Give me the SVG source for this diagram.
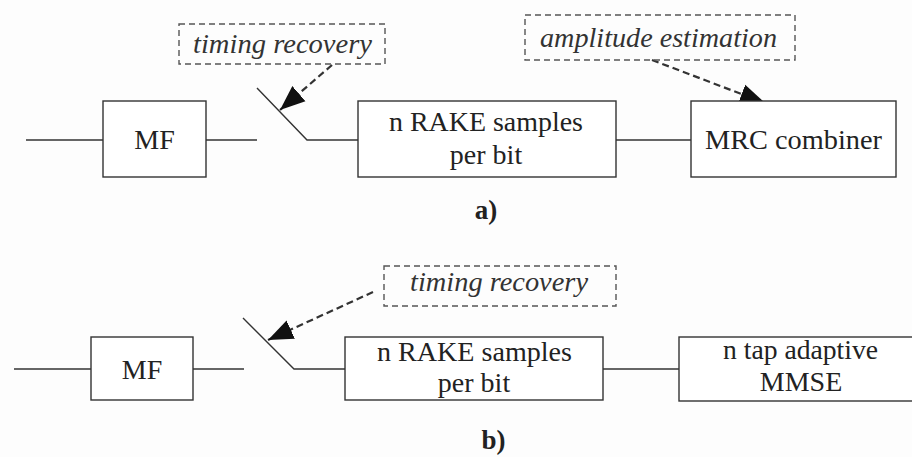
<svg xmlns="http://www.w3.org/2000/svg" width="912" height="457" viewBox="0 0 912 457">
<style>
.box{fill:#fff;stroke:#333;stroke-width:1.4}
.dbox{fill:none;stroke:#555;stroke-width:1.4;stroke-dasharray:6 4}
.wire{fill:none;stroke:#333;stroke-width:1.4}
.darr{fill:none;stroke:#333;stroke-width:2.2;stroke-dasharray:7 4}
text{font-family:"Liberation Serif","Times New Roman",serif;font-size:28px;fill:#222;text-anchor:middle}
.it{font-style:italic;fill:#333}
.b{font-weight:bold;font-size:27px}
</style>
<defs>
<marker id="ah" markerUnits="userSpaceOnUse" markerWidth="26" markerHeight="22" refX="25" refY="11" orient="auto">
<path d="M0,1 L25,11 L0,21 z" fill="#111"/>
</marker>
</defs>
<rect width="912" height="457" fill="#fdfdfd"/>
<g id="connectors">
<line class="wire" x1="26" y1="140" x2="103" y2="140"/>
<line class="wire" x1="206" y1="140" x2="257" y2="140"/>
<polyline class="wire" points="257,88 307,140 358,140"/>
<line class="wire" x1="616" y1="140" x2="691" y2="140"/>
<line class="darr" x1="332" y1="65" x2="280" y2="110" marker-end="url(#ah)"/>
<line class="darr" x1="652" y1="60" x2="765" y2="103" marker-end="url(#ah)"/>
<line class="wire" x1="14" y1="369" x2="91" y2="369"/>
<line class="wire" x1="193" y1="369" x2="244" y2="369"/>
<polyline class="wire" points="243,318 294,369 345,369"/>
<line class="wire" x1="603" y1="369" x2="679" y2="369"/>
<line class="darr" x1="373" y1="292" x2="268" y2="340" marker-end="url(#ah)"/>
</g>
<g id="mf_a"><rect class="box" x="103" y="101" width="103" height="76"/><text x="154.5" y="149">MF</text></g>
<g id="rake_a"><rect class="box" x="358" y="101" width="258" height="76"/><text x="486" y="131" textLength="194" lengthAdjust="spacingAndGlyphs">n RAKE samples</text><text x="486" y="164">per bit</text></g>
<g id="mrc_a"><rect class="box" x="691" y="101" width="205" height="76"/><text x="793.5" y="149" textLength="177" lengthAdjust="spacingAndGlyphs">MRC combiner</text></g>
<g id="timing_a"><rect class="dbox" x="179" y="24" width="206" height="40"/><text class="it" x="282.5" y="53" textLength="179" lengthAdjust="spacingAndGlyphs">timing recovery</text></g>
<g id="amp_a"><rect class="dbox" x="525" y="15" width="270" height="45"/><text class="it" x="658.5" y="47" textLength="237" lengthAdjust="spacingAndGlyphs">amplitude estimation</text></g>
<g id="label_a"><text class="b" x="486" y="219">a)</text></g>
<g id="mf_b"><rect class="box" x="91" y="337" width="102" height="63"/><text x="142" y="379">MF</text></g>
<g id="rake_b"><rect class="box" x="345" y="337" width="258" height="63"/><text x="474.5" y="361" textLength="195" lengthAdjust="spacingAndGlyphs">n RAKE samples</text><text x="474" y="392">per bit</text></g>
<g id="mmse_b"><rect class="box" x="679" y="337" width="245" height="64"/><text x="800.5" y="359" textLength="155" lengthAdjust="spacingAndGlyphs">n tap adaptive</text><text x="801" y="391">MMSE</text></g>
<g id="timing_b"><rect class="dbox" x="384" y="266" width="232" height="40"/><text class="it" x="499" y="291" textLength="178" lengthAdjust="spacingAndGlyphs">timing recovery</text></g>
<g id="label_b"><text class="b" x="493.5" y="449">b)</text></g>
</svg>
